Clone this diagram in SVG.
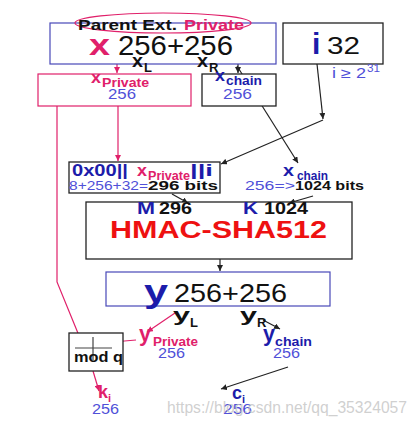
<svg xmlns="http://www.w3.org/2000/svg" width="418" height="426" viewBox="0 0 418 426">
<defs>
<marker id="ab" viewBox="0 0 10 10" refX="10" refY="5" markerWidth="6" markerHeight="6" orient="auto" markerUnits="userSpaceOnUse"><path d="M0,0 L10,5 L0,10 z" fill="#222"/></marker>
<marker id="am" viewBox="0 0 10 10" refX="10" refY="5" markerWidth="6" markerHeight="6" orient="auto" markerUnits="userSpaceOnUse"><path d="M0,0 L10,5 L0,10 z" fill="#e0206a"/></marker>
</defs>
<style>
text{font-family:"Liberation Sans",Arial,sans-serif}
.b{font-weight:bold}
.mg{fill:#e0206a}
.bl{fill:#1c1caa}
.lb{fill:#5050d8}
.k{fill:#111}
.cb{fill:none;stroke:#222;stroke-width:1.2;marker-end:url(#ab)}
.cm{fill:none;stroke:#e0206a;stroke-width:1.2;marker-end:url(#am)}
.box{fill:#fff;stroke:#222;stroke-width:1.3}
</style>
<rect width="418" height="426" fill="#fff"/>

<g id="connectors">
<path class="cm" d="M117,64 L117,73"/>
<path class="cb" d="M238,64 L238,73"/>
<path class="cb" d="M237,66 L298,163"/>
<path class="cb" d="M317,64 L323,119"/>
<path class="cb" d="M323,120 L221,164"/>
<path class="cm" d="M57,106 L57,282 L82,343"/>
<path class="cm" d="M118,106 L118,161"/>
<path class="cb" d="M172,194 L188,203"/>
<path class="cb" d="M313,196 L289,203"/>
<path class="cb" d="M220,259 L220,271"/>
<path class="cm" d="M175,313 L147,332"/>
<path class="cm" d="M136,340 L113,342"/>
<path class="cm" d="M93,371 L99,391"/>
<path class="cb" d="M263,320 L280,329"/>
<path class="cb" d="M288,367 L221,389"/>
</g>

<g id="parent">
<rect x="50" y="23" width="226" height="41" fill="#fff" stroke="#4848b8" stroke-width="1.2"/>
<ellipse cx="163" cy="23" rx="88" ry="10" fill="none" stroke="#e0206a" stroke-width="1.2"/>
<text x="78" y="30" class="b k" font-size="15" textLength="99" lengthAdjust="spacingAndGlyphs">Parent Ext.</text>
<text x="184" y="30" class="b mg" font-size="15" textLength="60" lengthAdjust="spacingAndGlyphs">Private</text>
<text x="89" y="55" class="b mg" font-size="30" textLength="21" lengthAdjust="spacingAndGlyphs">x</text>
<text x="118" y="55" class="k" font-size="28" textLength="115" lengthAdjust="spacingAndGlyphs">256+256</text>
<text x="132" y="67" class="b k" font-size="18" textLength="11" lengthAdjust="spacingAndGlyphs">x</text>
<text x="144" y="72" class="b k" font-size="13">L</text>
<text x="197" y="67" class="b k" font-size="18" textLength="11" lengthAdjust="spacingAndGlyphs">x</text>
<text x="209" y="72" class="b k" font-size="13">R</text>
</g>

<g id="index">
<rect x="283" y="23" width="100" height="41" class="box"/>
<text x="312" y="54" class="b bl" font-size="30">i</text>
<text x="327" y="54" class="k" font-size="23" textLength="33" lengthAdjust="spacingAndGlyphs">32</text>
<text x="332" y="78" class="lb" font-size="14" textLength="34" lengthAdjust="spacingAndGlyphs">i ≥ 2</text>
<text x="367" y="72" class="lb" font-size="10" textLength="13" lengthAdjust="spacingAndGlyphs">31</text>
</g>

<g id="xprivate">
<rect x="38" y="74" width="153" height="32" fill="#fff" stroke="#e0206a" stroke-width="1.2"/>
<text x="91" y="83" class="b mg" font-size="17" textLength="10" lengthAdjust="spacingAndGlyphs">x</text>
<text x="102" y="87" class="b mg" font-size="13" textLength="47" lengthAdjust="spacingAndGlyphs">Private</text>
<text x="108" y="99" class="lb" font-size="15" textLength="28" lengthAdjust="spacingAndGlyphs">256</text>
</g>

<g id="xchain">
<rect x="202" y="74" width="74" height="32" class="box"/>
<text x="215" y="81" class="b bl" font-size="17" textLength="10" lengthAdjust="spacingAndGlyphs">x</text>
<text x="226" y="85" class="b bl" font-size="13" textLength="36" lengthAdjust="spacingAndGlyphs">chain</text>
<text x="223" y="99" class="lb" font-size="15" textLength="29" lengthAdjust="spacingAndGlyphs">256</text>
</g>

<g id="message">
<rect x="69" y="162" width="151" height="31" class="box"/>
<text x="72" y="176" class="b bl" font-size="16" textLength="56" lengthAdjust="spacingAndGlyphs">0x00||</text>
<text x="137" y="176" class="b mg" font-size="17" textLength="10" lengthAdjust="spacingAndGlyphs">x</text>
<text x="148" y="180" class="b mg" font-size="12" textLength="42" lengthAdjust="spacingAndGlyphs">Private</text>
<text x="190" y="176" class="b bl" font-size="16" textLength="23" lengthAdjust="spacingAndGlyphs">||i</text>
<text x="69" y="190" class="lb" font-size="13" textLength="79" lengthAdjust="spacingAndGlyphs">8+256+32=</text>
<text x="148" y="190" class="b k" font-size="13" textLength="70" lengthAdjust="spacingAndGlyphs">296 bits</text>
</g>

<g id="key">
<text x="283" y="176" class="b bl" font-size="17" textLength="11" lengthAdjust="spacingAndGlyphs">x</text>
<text x="297" y="180" class="b bl" font-size="12" textLength="31" lengthAdjust="spacingAndGlyphs">chain</text>
<text x="245" y="190" class="lb" font-size="13" textLength="50" lengthAdjust="spacingAndGlyphs">256=&gt;</text>
<text x="295" y="190" class="b k" font-size="13" textLength="69" lengthAdjust="spacingAndGlyphs">1024 bits</text>
</g>

<g id="hmac">
<rect x="86" y="202" width="266" height="57" class="box"/>
<text x="137" y="214" class="b bl" font-size="17" textLength="18" lengthAdjust="spacingAndGlyphs">M</text>
<text x="159" y="214" class="b k" font-size="17" textLength="33" lengthAdjust="spacingAndGlyphs">296</text>
<text x="243" y="214" class="b bl" font-size="17" textLength="15" lengthAdjust="spacingAndGlyphs">K</text>
<text x="264" y="214" class="b k" font-size="17" textLength="44" lengthAdjust="spacingAndGlyphs">1024</text>
<text x="110" y="238" class="b" fill="#ee1111" font-size="23" textLength="217" lengthAdjust="spacingAndGlyphs">HMAC-SHA512</text>
</g>

<g id="output">
<rect x="106" y="272" width="224" height="34" fill="#fff" stroke="#4848b8" stroke-width="1.2"/>
<text x="144" y="302" class="b bl" font-size="32" textLength="24" lengthAdjust="spacingAndGlyphs">y</text>
<text x="174" y="302" class="k" font-size="26" textLength="113" lengthAdjust="spacingAndGlyphs">256+256</text>
<text x="173" y="321" class="b k" font-size="18" textLength="17" lengthAdjust="spacingAndGlyphs">y</text>
<text x="190" y="327" class="b k" font-size="13">L</text>
<text x="240" y="321" class="b k" font-size="18" textLength="17" lengthAdjust="spacingAndGlyphs">y</text>
<text x="257" y="327" class="b k" font-size="13">R</text>
</g>

<g id="yprivate">
<text x="139" y="341" class="b mg" font-size="22" textLength="12" lengthAdjust="spacingAndGlyphs">y</text>
<text x="153" y="346" class="b mg" font-size="13" textLength="45" lengthAdjust="spacingAndGlyphs">Private</text>
<text x="158" y="358" class="lb" font-size="15" textLength="27" lengthAdjust="spacingAndGlyphs">256</text>
</g>

<g id="ychain">
<text x="263" y="341" class="b bl" font-size="22" textLength="12" lengthAdjust="spacingAndGlyphs">y</text>
<text x="275" y="346" class="b bl" font-size="13" textLength="37" lengthAdjust="spacingAndGlyphs">chain</text>
<text x="273" y="358" class="lb" font-size="15" textLength="27" lengthAdjust="spacingAndGlyphs">256</text>
</g>

<g id="modq">
<rect x="69" y="333" width="54" height="38" class="box"/>
<path d="M75,348 L112,348 M93,337 L93,360" stroke="#444" stroke-width="1.2" fill="none"/>
<text x="74" y="362" class="b k" font-size="14" textLength="49" lengthAdjust="spacingAndGlyphs">mod q</text>
</g>

<g id="ki">
<text x="98" y="398" class="b mg" font-size="18" textLength="10" lengthAdjust="spacingAndGlyphs">k</text>
<text x="108" y="402" class="b mg" font-size="11">i</text>
<text x="92" y="414" class="lb" font-size="15" textLength="27" lengthAdjust="spacingAndGlyphs">256</text>
</g>

<g id="ci">
<text x="232" y="399" class="b bl" font-size="18" textLength="10" lengthAdjust="spacingAndGlyphs">c</text>
<text x="242" y="403" class="b bl" font-size="11">i</text>
<text x="223" y="414" class="lb" font-size="15" textLength="29" lengthAdjust="spacingAndGlyphs">256</text>
</g>

<text x="167" y="413" fill="#c4c4c4" fill-opacity="0.8" font-size="16" textLength="240" lengthAdjust="spacingAndGlyphs">https://blog.csdn.net/qq_35324057</text>
</svg>
